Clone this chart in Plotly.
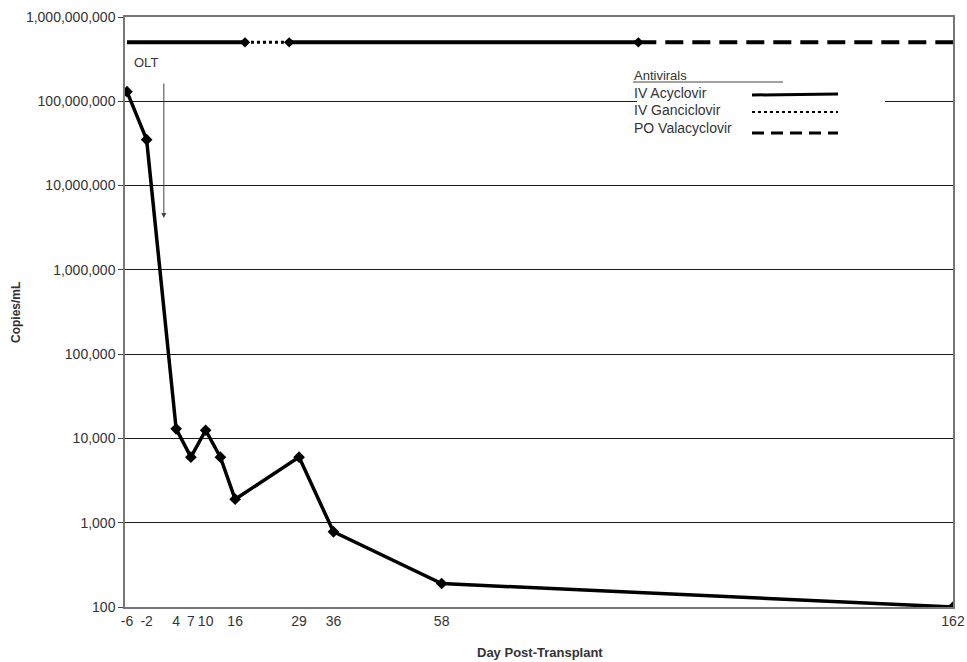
import plotly.graph_objects as go

# ---- data ----
days = [-6, -2, 4, 7, 10, 13, 16, 29, 36, 58, 162]
copies = [130_000_000, 35_000_000, 13_000, 6_000, 12_500, 6_000, 1_900, 6_000, 780, 190, 100]
tick_days = [-6, -2, 4, 7, 10, 16, 29, 36, 58, 162]
y_ticks = [1e2, 1e3, 1e4, 1e5, 1e6, 1e7, 1e8, 1e9]

antiviral_level = 5e8
acyclovir_x = [-6, 18, None, 27, 98]
ganciclovir_x = [18, 27]
valacyclovir_x = [98, 162]
switch_days = [18, 27, 98]

FONT = "Liberation Sans, Arial, sans-serif"
TXT = "#333333"

fig = go.Figure()

fig.add_trace(go.Scatter(
    x=days, y=copies, mode="lines+markers",
    line=dict(color="black", width=3.5),
    marker=dict(symbol="diamond", size=9, color="black"),
    showlegend=False))

fig.add_trace(go.Scatter(
    x=acyclovir_x, y=[antiviral_level if v is not None else None for v in acyclovir_x],
    mode="lines", line=dict(color="black", width=4), showlegend=False))
fig.add_trace(go.Scatter(
    x=ganciclovir_x, y=[antiviral_level] * len(ganciclovir_x),
    mode="lines", line=dict(color="black", width=3, dash="dot"), showlegend=False))
fig.add_trace(go.Scatter(
    x=valacyclovir_x, y=[antiviral_level] * len(valacyclovir_x),
    mode="lines", line=dict(color="black", width=4, dash="18px,9px"), showlegend=False))
fig.add_trace(go.Scatter(
    x=switch_days, y=[antiviral_level] * len(switch_days),
    mode="markers", marker=dict(symbol="diamond", size=8, color="black"),
    showlegend=False))

# plot area in page pixels: x 125..953, y 17..607
def px_x(p):
    return (p - 125) / 828

def px_y(p):
    return (607 - p) / 590

shapes = [
    dict(type="rect", xref="paper", yref="paper", x0=px_x(637), x1=px_x(885),
         y0=px_y(140), y1=px_y(66), fillcolor="white", line=dict(width=0), layer="above"),
    dict(type="line", xref="paper", yref="paper", x0=px_x(633), x1=px_x(783),
         y0=px_y(82), y1=px_y(82), line=dict(color="#444", width=1)),
    dict(type="line", xref="paper", yref="paper", x0=px_x(752), x1=px_x(838),
         y0=px_y(95), y1=px_y(94), line=dict(color="black", width=3)),
    dict(type="line", xref="paper", yref="paper", x0=px_x(752), x1=px_x(838),
         y0=px_y(112), y1=px_y(112), line=dict(color="black", width=2, dash="dot")),
    dict(type="line", xref="paper", yref="paper", x0=px_x(752), x1=px_x(838),
         y0=px_y(133), y1=px_y(133), line=dict(color="black", width=3, dash="12px,7px")),
]

annotations = [
    dict(text="Antivirals", xref="paper", yref="paper", x=px_x(632), y=px_y(75),
         xanchor="left", yanchor="middle", showarrow=False, font=dict(size=13, color=TXT, family=FONT)),
    dict(text="IV Acyclovir", xref="paper", yref="paper", x=px_x(632), y=px_y(93),
         xanchor="left", yanchor="middle", showarrow=False, font=dict(size=14, color=TXT, family=FONT)),
    dict(text="IV Ganciclovir", xref="paper", yref="paper", x=px_x(632), y=px_y(110),
         xanchor="left", yanchor="middle", showarrow=False, font=dict(size=14, color=TXT, family=FONT)),
    dict(text="PO Valacyclovir", xref="paper", yref="paper", x=px_x(632), y=px_y(128),
         xanchor="left", yanchor="middle", showarrow=False, font=dict(size=14, color=TXT, family=FONT)),
    dict(text="OLT", x=-2.1, y=8.466, xref="x", yref="y", showarrow=False,
         xanchor="center", yanchor="middle", font=dict(size=13, color=TXT, family=FONT)),
    dict(text="", x=1.5, y=6.616, ax=1.5, ay=8.229, xref="x", yref="y", axref="x", ayref="y",
         showarrow=True, arrowhead=2, arrowsize=1, arrowwidth=1, arrowcolor="#444"),
    dict(text="<b>Copies/mL</b>", xref="paper", yref="paper", x=px_x(16), y=px_y(313),
         xanchor="center", yanchor="middle",
         textangle=-90, showarrow=False, font=dict(size=12, color=TXT, family=FONT)),
    dict(text="<b>Day Post-Transplant</b>", xref="paper", yref="paper", x=px_x(540), y=px_y(652),
         xanchor="center", yanchor="middle",
         showarrow=False, font=dict(size=13, color=TXT, family=FONT)),
]

fig.update_layout(
    width=967, height=662,
    margin=dict(l=125, r=14, t=17, b=55, autoexpand=False),
    paper_bgcolor="white", plot_bgcolor="white",
    font=dict(family=FONT, color=TXT, size=14),
    shapes=shapes, annotations=annotations,
    xaxis=dict(range=[-6.4, 162], tickvals=tick_days, ticktext=[str(d) for d in tick_days],
               showgrid=False, zeroline=False, showline=True, linecolor="#777", linewidth=1.5,
               mirror=True, ticks="", automargin=False, tickfont=dict(size=14, color=TXT)),
    yaxis=dict(type="log", range=[2, 9], tickvals=y_ticks, tickformat=",d",
               showgrid=True, gridcolor="#1a1a1a", gridwidth=1, zeroline=False,
               showline=True, linecolor="#777", linewidth=1.5, mirror=True, automargin=False,
               ticks="outside", ticklen=5, tickcolor="#444", tickfont=dict(size=14, color=TXT)),
)

fig.write_html("out.html", config={"displayModeBar": False},
               post_script="document.body.style.margin='0';")
